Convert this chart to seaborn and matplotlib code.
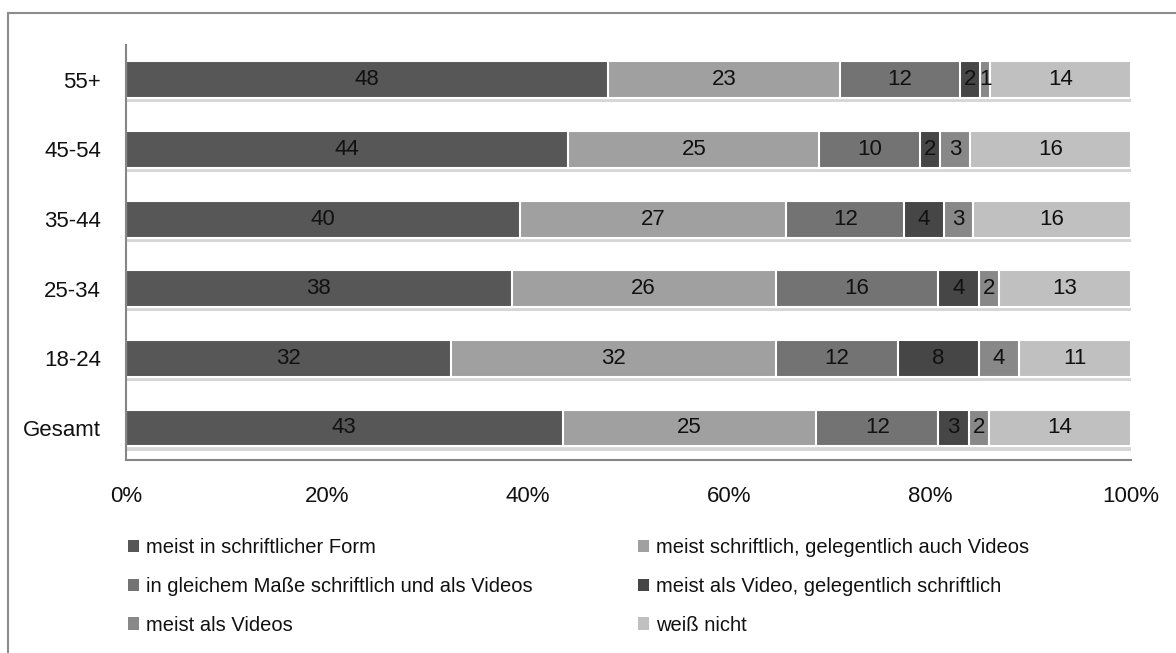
import matplotlib
matplotlib.use("Agg")
import matplotlib.pyplot as plt
import matplotlib.patheffects as pe
from matplotlib.patches import Rectangle, Patch
import seaborn as sns
import pandas as pd
import numpy as np

categories = ["55+", "45-54", "35-44", "25-34", "18-24", "Gesamt"]
series_names = [
    "meist in schriftlicher Form",
    "meist schriftlich, gelegentlich auch Videos",
    "in gleichem Maße schriftlich und als Videos",
    "meist als Video, gelegentlich schriftlich",
    "meist als Videos",
    "weiß nicht",
]
s1 = [48, 44, 40, 38, 32, 43]
s2 = [23, 25, 27, 26, 32, 25]
s3 = [12, 10, 12, 16, 12, 12]
s4 = [2, 2, 4, 4, 8, 3]
s5 = [1, 3, 3, 2, 4, 2]
s6 = [14, 16, 16, 13, 11, 14]
xtick_labels = ["0%", "20%", "40%", "60%", "80%", "100%"]
colors = ["#575757", "#a0a0a0", "#737373", "#464646", "#888888", "#c0c0c0"]

sns.set_theme(style="white")
plt.rcParams["font.family"] = ["Liberation Sans", "DejaVu Sans"]

series = [s1, s2, s3, s4, s5, s6]
vals = np.array(series, dtype=float)  # shape (6 series, 6 cats)
pct = vals / vals.sum(axis=0) * 100
cum = np.cumsum(pct, axis=0)

fig = plt.figure(figsize=(11.76, 6.53), dpi=100)
ax = fig.add_axes([126/1176, 1-460/653, (1131-126)/1176, (460-45)/653])

for i in range(5, -1, -1):
    df = pd.DataFrame({"cat": categories, "val": cum[i]})
    sns.barplot(data=df, y="cat", x="val", orient="h", color=colors[i], width=0.53,
                edgecolor="white", linewidth=1.5, saturation=1, ax=ax)
shadow = [pe.SimplePatchShadow(offset=(1, -3), shadow_rgbFace="#000000", alpha=0.16), pe.Normal()]
for p in ax.patches[:6]:
    p.set_path_effects(shadow)

for i in range(6):
    for j in range(6):
        center = cum[i, j] - pct[i, j] / 2
        ax.text(center, j, str(series[i][j]), ha="center", va="center",
                fontsize=16, color="#111111")

ax.set_xlim(0, 100)
ax.set_ylim(5.46, -0.5)
ax.set_xticks([0, 20, 40, 60, 80, 100])
ax.set_xticklabels(xtick_labels, fontsize=16, color="#111111")
ax.tick_params(axis="x", pad=19, length=0)
ax.tick_params(axis="y", pad=18, length=0, labelsize=16, labelcolor="#111111")
ax.set_xlabel("")
ax.set_ylabel("")
for s in ["top", "right"]:
    ax.spines[s].set_visible(False)
for s in ["left", "bottom"]:
    ax.spines[s].set_color("#868686")
    ax.spines[s].set_linewidth(1.5)

order = [0, 2, 4, 1, 3, 5]
handles = [Patch(facecolor=colors[k], edgecolor="none", label=series_names[k]) for k in order]
fig.legend(handles=handles, loc="upper left", bbox_to_anchor=(110/1176, 1-520/653), ncol=2,
           frameon=False, fontsize=14.5, handlelength=0.55, handleheight=0.55, handletextpad=0.35,
           columnspacing=5.2, labelspacing=0.98, labelcolor="#111111")

fig.patches.append(Rectangle((8/1176, -0.05), 1.1, 1.05 - 13/653, transform=fig.transFigure,
                             fill=False, edgecolor="#8c8c8c", linewidth=1.5))

fig.savefig("out.png", dpi=100, facecolor="white")
